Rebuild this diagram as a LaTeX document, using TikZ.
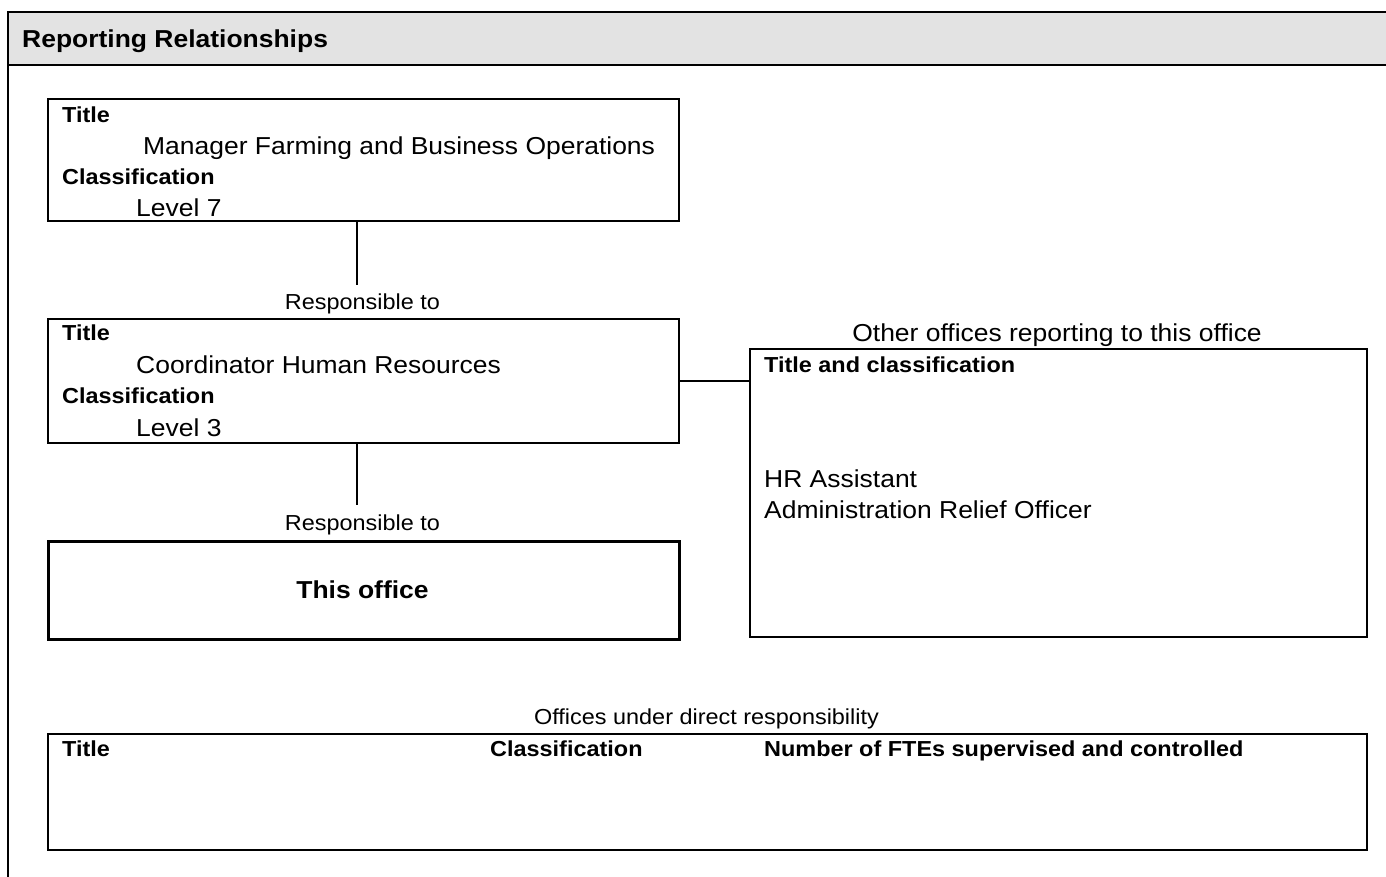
\documentclass[tikz,border=0pt]{standalone}
\usepackage{fontspec}
\setmainfont[FakeStretch=1.08]{Liberation Sans}
\begin{document}
\begin{tikzpicture}[x=1pt,y=-1pt,
  box/.style={draw, line width=2pt, inner sep=0pt, anchor=north west},
  officebox/.style={box, line width=3.4pt},
  lbl/.style={font=\fontsize{21.7}{26}\selectfont\bfseries, inner sep=0pt, anchor=base west},
  val/.style={font=\fontsize{24.5}{29}\selectfont, inner sep=0pt, anchor=base west},
  caption/.style={font=\fontsize{21.7}{26}\selectfont, inner sep=0pt, anchor=base},
  link/.style={line width=1.5pt}]
  \path[use as bounding box] (0,0) rectangle (1386,876);
  \clip (0,0) rectangle (1386,876);

  % section frame with grey heading band
  \fill[gray!22] (8,12) rectangle (1400,65);
  \draw[line width=2.3pt] (1400,12) -- (8,12) -- (8,900);
  \draw[line width=2.3pt] (8,65) -- (1400,65);
  \node[font=\fontsize{24.5}{29}\selectfont\bfseries, inner sep=0pt, anchor=base west] (head) at (22,47) {Reporting Relationships};

  % superior office
  \node[box, minimum width=631, minimum height=122] (mgr) at (47,98) {};
  \node[lbl] (mgrT) at (62,122) {Title};
  \node[val] (mgrN) at (143,154) {Manager Farming and Business Operations};
  \node[lbl] (mgrC) at (62,184) {Classification};
  \node[val] (mgrL) at (136,216) {Level 7};

  \node[caption] (resp1) at (362.5,309) {Responsible to};

  % immediate supervisor
  \node[box, minimum width=631, minimum height=124] (coord) at (47,318) {};
  \node[lbl] (coT) at (62,340) {Title};
  \node[val] (coN) at (136,373) {Coordinator Human Resources};
  \node[lbl] (coC) at (62,403) {Classification};
  \node[val] (coL) at (136,436) {Level 3};

  \node[caption] (resp2) at (362.5,530) {Responsible to};

  % this office
  \node[officebox, minimum width=631, minimum height=98] (this) at (47,540) {};
  \node[font=\fontsize{24.5}{29}\selectfont\bfseries, inner sep=0pt, anchor=base] (thisT) at (362.5,598) {This office};

  % other offices reporting
  \node[font=\fontsize{24.5}{29}\selectfont, inner sep=0pt, anchor=base] (othH) at (1057,341) {Other offices reporting to this office};
  \node[box, minimum width=617, minimum height=288] (oth) at (749,348) {};
  \node[lbl] (othT) at (764,372) {Title and classification};
  \node[val] (othA) at (764,487) {HR Assistant};
  \node[val] (othB) at (764,518) {Administration Relief Officer};

  % offices under direct responsibility
  \node[caption] (dirH) at (706.5,724) {Offices under direct responsibility};
  \node[box, minimum width=1319, minimum height=116] (dir) at (47,733) {};
  \node[lbl] (dirT) at (62,756) {Title};
  \node[lbl] (dirC) at (490,756) {Classification};
  \node[lbl] (dirF) at (764,756) {Number of FTEs supervised and controlled};

  % connectors
  \coordinate (j1) at (357,285);
  \coordinate (j2) at (357,505);
  \draw[link] (j1 |- mgr.south) -- (j1);
  \draw[link] (j2 |- coord.south) -- (j2);
  \draw[link] (coord.east) -- (coord.east -| oth.west);
\end{tikzpicture}
\end{document}
